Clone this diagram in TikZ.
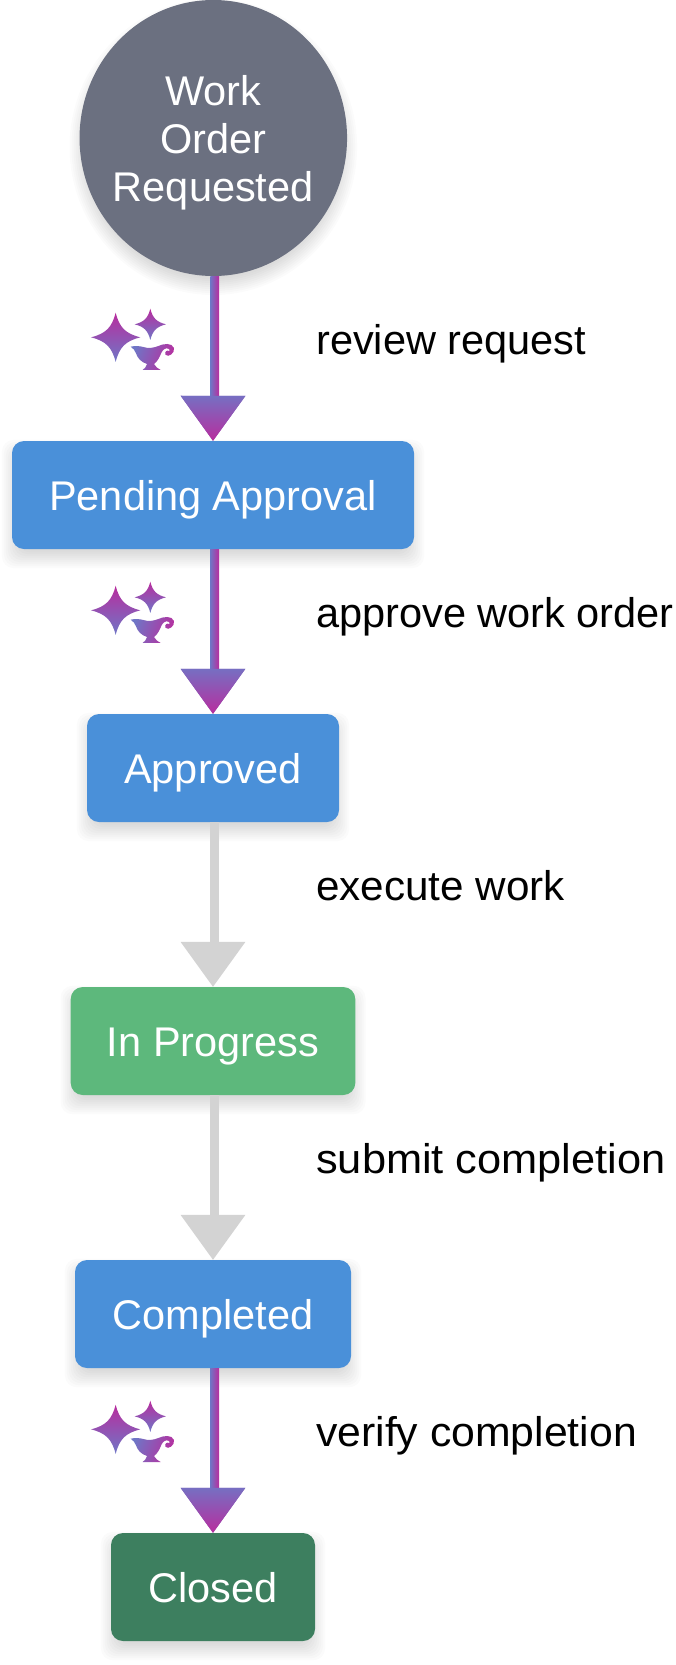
\documentclass[tikz,border=0pt]{standalone}
\usepackage{fontspec}
\setmainfont{Liberation Sans}
\usetikzlibrary{arrows.meta,calc,backgrounds,shapes.geometric}
\definecolor{cgrey}{HTML}{6B7080}
\definecolor{cblue}{HTML}{4A90D9}
\definecolor{cgreen}{HTML}{5DB87C}
\definecolor{cdark}{HTML}{3D7F5F}
\definecolor{clink}{HTML}{D3D3D3}
\definecolor{gmag}{HTML}{B82D9E}
\definecolor{gblu}{HTML}{6F76C6}
\tikzset{
  boxnode/.style={rectangle,rounded corners=12pt,minimum height=108pt,inner sep=0pt,text=white,text height=30pt,text depth=0pt,font=\fontsize{41.5}{48}\selectfont},
  startnode/.style={ellipse,inner sep=0pt,minimum width=267.5pt,minimum height=276pt,fill=cgrey},
  starttext/.style={text=white,align=center,inner sep=0pt,yshift=-5pt,font=\fontsize{41.5}{48}\selectfont},
  lbl/.style={anchor=base west,inner sep=0pt,font=\fontsize{41.5}{48}\selectfont,text=black},
  tiplink/.style={line width=2pt,draw=#1,-{Triangle[width=64.5pt,length=45pt,fill=#1]}},
  shaftgrad/.style={left color=gblu,right color=gmag},
  headgrad/.style={top color=gblu!90!gmag,bottom color=gmag},
  stargrad/.style={top color=gmag,bottom color=gblu},
  lampgrad/.style={left color=gblu,right color=gmag,shading angle=70},
}
\newcommand{\boxshadow}[1]{%
  \foreach \e in {10,8,6,4,2,0,-2,-4,-6,-8,-10}{
    \fill[black,opacity=.017,rounded corners=12pt] ($(#1.south west)+(-\e,\e+9)$) rectangle ($(#1.north east)+(\e,-\e+9)$);
  }}
\newcommand{\plainflow}[2]{%
  \draw[tiplink=clink] (#1.south) -- (#2.north);
  \fill[clink] ($(#1.south)+(-3,0)$) rectangle ($(#2.north)+(6,-44)$);}
\newcommand{\magicflow}[2]{%
  \draw[tiplink=gblu!70!gmag] (#1.south) -- (#2.north);
  \shade[shaftgrad] ($(#1.south)+(-3,0)$) rectangle ($(#2.north)+(6,-44)$);
  \shade[headgrad] ($(#2.north)+(-32.3,-45)$) -- ($(#2.north)+(32.3,-45)$) -- (#2.north) -- cycle;}
\newcommand{\sparkle}[3]{%
  \shade[stargrad] (#1,#2-#3) .. controls (#1+.15*#3,#2-.4*#3) and (#1+.4*#3,#2-.15*#3) .. (#1+#3,#2)
   .. controls (#1+.4*#3,#2+.15*#3) and (#1+.15*#3,#2+.4*#3) .. (#1,#2+#3)
   .. controls (#1-.15*#3,#2+.4*#3) and (#1-.4*#3,#2+.15*#3) .. (#1-#3,#2)
   .. controls (#1-.4*#3,#2-.15*#3) and (#1-.15*#3,#2-.4*#3) .. (#1,#2-#3) -- cycle;}
\newcommand{\magicicon}[1]{%
  \begin{scope}[shift={(60,#1)},x=.3333pt,y=-.3333pt]
    \sparkle{167}{232}{74}
    \sparkle{271}{193}{47}
    \shade[lampgrad] (212,260) .. controls (225,257) and (240,258) .. (250,261)
      .. controls (265,266) and (280,264) .. (295,258)
      .. controls (310,251) and (336,247) .. (342,264)
      .. controls (345,280) and (325,294) .. (316,284)
      .. controls (313,275) and (322,268) .. (328,274)
      .. controls (332,266) and (320,262) .. (312,268)
      .. controls (304,274) and (302,286) .. (296,296)
      .. controls (292,304) and (286,309) .. (282,312)
      .. controls (286,320) and (294,326) .. (302,330)
      -- (248,330) .. controls (254,326) and (259,320) .. (261,312)
      .. controls (243,306) and (233,295) .. (228,280)
      .. controls (225,272) and (220,265) .. (212,260) -- cycle;
  \end{scope}}
\begin{document}
\begin{tikzpicture}[x=1pt,y=-1pt]
\useasboundingbox (0,0) rectangle (675,1665);
\node[startnode,label={[starttext]center:Work\\Order\\Requested}] (start) at (213.3,138) {};
\node[boxnode,fill=cblue,minimum width=402pt] (pending) at (213,495) {Pending Approval};
\node[boxnode,fill=cblue,minimum width=252pt] (approved) at (213,768) {Approved};
\node[boxnode,fill=cgreen,minimum width=284.6pt] (progress) at (213,1041) {In Progress};
\node[boxnode,fill=cblue,minimum width=276pt] (completed) at (213,1314) {Completed};
\node[boxnode,fill=cdark,minimum width=204pt] (closed) at (213,1587) {Closed};
\begin{scope}[on background layer]
  \foreach \e in {10,8,6,4,2,0,-2,-4,-6,-8,-10}{
    \fill[black,opacity=.017] ($(start.center)+(0,9)$) ellipse [x radius=133.75+\e,y radius=138+\e];
  }
  \boxshadow{pending}
  \boxshadow{approved}
  \boxshadow{progress}
  \boxshadow{completed}
  \boxshadow{closed}
\end{scope}
\magicflow{start}{pending}
\magicflow{pending}{approved}
\plainflow{approved}{progress}
\plainflow{progress}{completed}
\magicflow{completed}{closed}
\magicicon{260}
\magicicon{533}
\magicicon{1352}
\node[lbl] (l1) at (316,354) {review request};
\node[lbl] (l2) at (316,627) {approve work order};
\node[lbl] (l3) at (316,900) {\scalebox{1.017}[1]{execute work}};
\node[lbl] (l4) at (316,1173) {\scalebox{1.045}[1]{submit completion}};
\node[lbl] (l5) at (316,1446) {\scalebox{1.03}[1]{verify completion}};
\end{tikzpicture}
\end{document}
